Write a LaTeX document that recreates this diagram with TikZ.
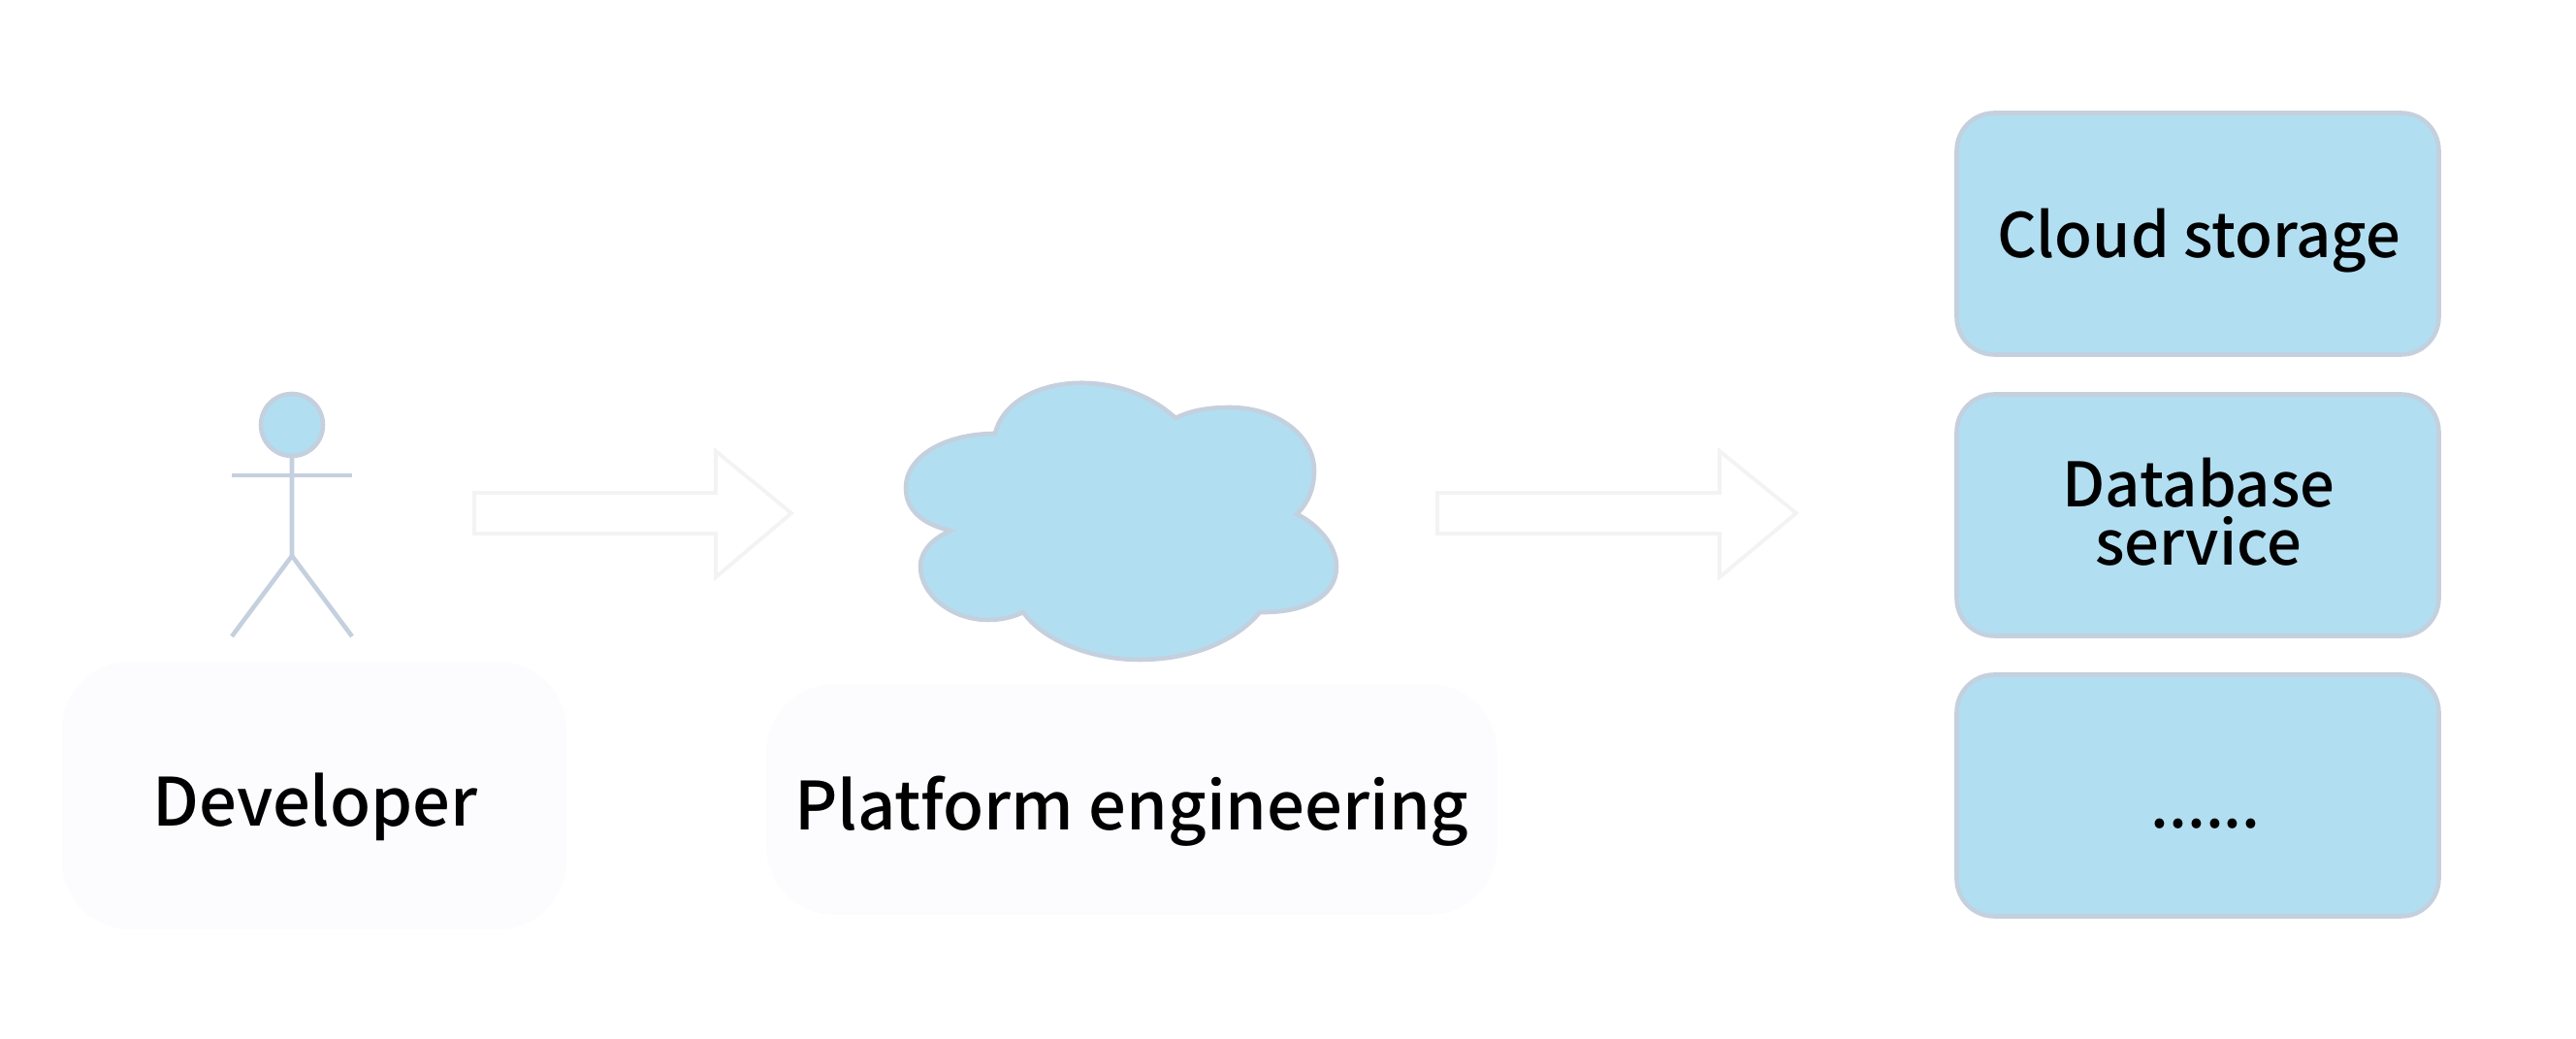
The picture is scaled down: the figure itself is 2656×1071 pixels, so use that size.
\documentclass[tikz,border=0pt]{standalone}
\usepackage{fontspec}
\setmainfont{Noto Sans CJK SC}[UprightFont=* Medium]
\definecolor{skyfill}{HTML}{B2DEF1}
\definecolor{skyline}{HTML}{C4D0DE}
\definecolor{palebox}{HTML}{FCFCFE}
\definecolor{palearrow}{HTML}{F3F3F3}
\tikzset{
    labelbox/.style={draw=none, fill=palebox, rounded corners=20pt},
    svcbox/.style={draw=skyline, fill=skyfill, line width=1.3pt, rounded corners=11pt,
        minimum width=497*0.01cm, minimum height=249*0.01cm},
    svctext/.style={align=center, font=\fontsize{18}{17}\selectfont},
    flowarrow/.style={draw=palearrow, fill=white, line width=1.1pt},
    figure/.style={draw=skyline, line width=1.3pt}
}
\begin{document}
\begin{tikzpicture}[x=0.01cm, y=-0.01cm, font=\fontsize{19.5}{17}\selectfont]
    \useasboundingbox (0,0) rectangle (2656,1071);
    \fill[white] (0,0) rectangle (2656,1071);
    % left column
    \draw[figure, fill=skyfill] (301,438) circle (32);
    \draw[figure] (301,471) -- (301,573) -- (239,656);
    \draw[figure] (301,573) -- (363,656);
    \draw[figure] (239,490) -- (363,490);
    \node[labelbox, minimum width=520*0.01cm, minimum height=276*0.01cm] (developer) at (324,820) {};
    \node (developertext) at (325,832) {Developer};
    % arrows
    \foreach \x/\n/\t in {489/738/816, 1482/1773/1852}
        \draw[flowarrow] (\x,508) -- (\n,508) -- (\n,465) -- (\t,529) -- (\n,595) -- (\n,550) -- (\x,550) -- cycle;
    % middle column
    \draw[figure, fill=skyfill] (1026,447)
        .. controls (1040,388) and (1150,374) .. (1212,431)
        .. controls (1230,422) and (1250,420) .. (1268,420)
        .. controls (1318,420) and (1355,450) .. (1355,485)
        .. controls (1355,503) and (1349,518) .. (1337,530)
        .. controls (1358,540) and (1378,562) .. (1378,584)
        .. controls (1378,615) and (1345,632) .. (1299,631)
        .. controls (1275,660) and (1230,680) .. (1175,680)
        .. controls (1125,680) and (1075,660) .. (1055,631)
        .. controls (1045,636) and (1032,639) .. (1019,639)
        .. controls (980,639) and (949,612) .. (949,584)
        .. controls (949,568) and (962,555) .. (980,547)
        .. controls (950,540) and (934,525) .. (934,503)
        .. controls (934,470) and (975,447) .. (1026,447) -- cycle;
    \node[labelbox, minimum width=753*0.01cm, minimum height=238*0.01cm] (platform) at (1167,824) {};
    \node (platformtext) at (1167,836) {Platform engineering};
    % right column
    \node[svcbox] (storage) at (2266,241) {};
    \node[svctext] (storagetext) at (2267,248) {Cloud storage};
    \node[svcbox] (database) at (2266,531) {};
    \node[svctext] (databasetext) at (2267,528) {Database\\service};
    \node[svcbox] (more) at (2266,820) {};
    \node[font=\fontsize{18}{17}\selectfont] (dots) at (2274,849) {......};
\end{tikzpicture}
\end{document}
